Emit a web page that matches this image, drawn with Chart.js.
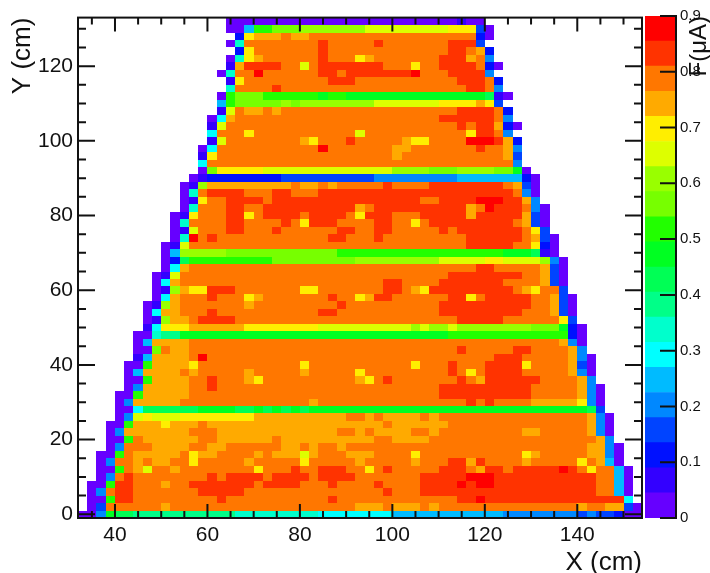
<!DOCTYPE html>
<html>
<head>
<meta charset="utf-8">
<script src="https://cdn.jsdelivr.net/npm/chart.js@4/dist/chart.umd.min.js"></script>
<style>
    body { margin: 0; background: #fff; }
    canvas { position: absolute; top: 0; }
    #map { left: 0; }
    #bar { left: 640px; }
</style>
</head>
<body>
<canvas id="map" width="710" height="573"></canvas>
<canvas id="bar" width="70" height="573"></canvas>
<script>
// one letter per colour level, lowest current first
const levelCodes = "PQBCDEFGHIJKLMNYoORX";
const levelColors = ["#6600ff", "#3300ff", "#0011ff", "#0044ff", "#0088ff", "#00bbff", "#00ffff", "#00ffcc", "#00ff88", "#00ff55",
    "#00ff22", "#22ff00", "#77ff00", "#99ff00", "#ddff00", "#ffee00", "#ffaa00", "#ff7700", "#ff3300", "#ff0000"];
const levelStep = 0.045;
const binSize = 2;

// row centres in cm, top row first
const rowYs = [132, 130, 128, 126, 124, 122, 120, 118, 116, 114, 112, 110, 108, 106, 104, 102, 100, 98, 96, 94, 92, 90, 88,
    86, 84, 82, 80, 78, 76, 74, 72, 70, 68, 66, 64, 62, 60, 58, 56, 54, 52, 50, 48, 46, 44, 42, 40, 38, 36, 34, 32, 30, 28,
    26, 24, 22, 20, 18, 16, 14, 12, 10, 8, 6, 4, 2, 0];

// each token: left bin edge in cm + level letter, runs until next token, "." closes the row
const cellRuns = [
    "64P 114Q 116P 120.",
    "64P 68E 70K 74L 80M 94N 112Y 118C 120P 122.",
    "66B 68Y 70o 76O 78o 82O 118B 120P 122.",
    "64P 66G 68O 84R 86O 96R 98O 112R 118C 120.",
    "66B 68Y 70O 84R 86O 112R 116O 118o 120B 122.",
    "64P 66G 68Y 70o 72O 84R 86O 92Y 94o 96O 110R 116o 118O 120D 122.",
    "64Q 66o 68R 76O 80N 82O 84R 98O 104Y 106O 110R 118O 120B 122P 124.",
    "62P 64G 66O 70X 72O 84R 88O 90R 104X 106O 112R 120D 122.",
    "64Q 66Y 68O 86R 92O 114R 120O 122B 124.",
    "64G 66O 74R 76O 116R 120O 122D 124.",
    "62P 64K 66L 72K 84J 86K 90J 120I 122Q 124P 126.",
    "62E 64K 66L 76M 78L 80M 96N 110Y 118o 120Y 122C 124.",
    "62Q 64N 66O 68o 72O 74o 76O 114R 122O 124B 126.",
    "60P 62F 64o 66O 110R 122O 124D 126.",
    "60Q 62N 64O 114R 116O 118R 122o 124B 126P 128.",
    "60F 62O 68Y 70O 92N 94O 116Y 118R 122O 124D 126.",
    "60Q 62N 64O 80o 82Y 84O 90R 92O 102o 104Y 108O 116X 122R 124o 126B 128.",
    "58P 60F 62O 84X 86O 100o 104O 118R 120O 124o 126D 128.",
    "58Q 60Y 62O 100o 102O 124o 126C 128.",
    "58F 60O 126D 128.",
    "58P 60L 62Y 72N 100M 108L 114M 122L 126J 128P 130.",
    "56P 58Q 60B 76C 96D 114E 128B 130P 132.",
    "54P 56Q 58M 60o 78O 80o 84O 86o 88O 98R 100O 108R 124O 126o 128C 130P 132.",
    "54P 56G 58O 60R 68O 74R 78O 84R 126O 128D 130P 132.",
    "54P 56Q 58Y 60O 64R 72O 74R 106O 110R 118X 124R 128o 130D 132.",
    "54P 56G 58O 64R 68O 72R 92o 94O 96R 116o 118O 120X 122R 128O 130D 132P 134.",
    "52P 54Q 56Y 58O 64R 68Y 70O 72R 80O 82R 90O 92Y 94R 100O 106R 116o 118R 128o 130C 132P 134.",
    "52P 54G 56O 64R 68O 76R 78O 80Y 82R 88O 96R 100O 104Y 106O 108R 126O 128o 130C 132P 134.",
    "52P 54Q 56N 58O 64R 68O 74R 76O 88R 92O 96R 100O 110R 112O 114R 128O 130Y 132C 134.",
    "52P 54G 56X 58O 60R 62O 86R 90O 96R 98O 116R 128O 130o 132C 134P 136.",
    "50P 52Q 54N 56O 116R 126O 130Y 132B 134P 136.",
    "50P 52E 54M 64L 88K 124J 130I 132Q 134P 136.",
    "50P 52B 54I 56K 74L 92M 110N 120Y 124N 132M 134D 136P 138.",
    "50P 52F 54o 56O 118R 122O 132o 134C 136P 138.",
    "48P 50Q 52N 54O 112R 128O 132o 134C 136P 138.",
    "48P 50F 52o 54O 98R 102O 110R 124O 132o 134C 136P 138.",
    "48P 50Q 52M 54o 56Y 60R 66O 80Y 84O 98R 102O 104o 106Y 108R 126O 128o 130Y 132O 136C 138.",
    "48P 50F 52o 54O 60R 62O 68Y 70o 72O 86R 88O 92Y 94o 96R 100O 112R 116Y 118O 120R 130O 134o 136C 138P 140.",
    "46P 48Q 50M 52o 54O 68o 70O 88R 90O 110R 130O 134o 136C 138P 140.",
    "46P 48F 50o 54O 60R 62O 84R 88O 110R 128O 134o 136C 138P 140.",
    "46P 48Q 50M 52o 56O 58R 66O 114R 124O 136Y 138C 140.",
    "46Q 48F 50Y 56o 68Y 84N 104M 106N 108M 112N 114M 130L 136J 138B 140P 142.",
    "44P 48G 50H 54J 112K 138B 140P 142.",
    "44P 46E 48o 56O 136o 138D 140P 142.",
    "44P 48L 50O 52o 56O 114R 116O 126R 130O 138o 140D 142.",
    "44Q 46E 48o 56O 58X 60O 122R 128O 138o 140D 142P 144.",
    "42P 46K 48o 56Y 58O 80Y 82O 104Y 106O 112R 114O 120R 128Y 130O 138o 140C 142P 144.",
    "42P 44E 46o 54O 56o 58O 68o 70O 80o 82O 92Y 94O 112R 114O 116Y 118O 120R 128O 138o 140D 142P 144.",
    "42P 46K 48o 56O 60R 62O 68o 70Y 72O 92o 94Y 96O 98R 100O 114R 116O 118o 120R 132O 140o 142D 144.",
    "42P 44D 46o 56O 60R 62O 110R 130O 140o 142D 144P 146.",
    "40P 44K 46o 56O 110R 130O 140o 142D 144P 146.",
    "40P 42D 44o 54O 82o 84O 116R 118O 120R 122O 130o 140Y 142D 144P 146.",
    "40P 44F 46I 58J 66I 70J 72I 74J 76I 78J 80I 82J 142I 144C 146.",
    "40P 42D 44N 46Y 48N 54Y 70o 90O 94o 96O 98o 106O 108o 110O 142o 144D 146P 148.",
    "38P 42K 44o 50Y 52o 58O 60o 98O 100o 112O 142o 144D 146P 148.",
    "38P 40D 42o 56O 62o 88O 92o 94O 96o 104O 108o 110O 128o 132O 142o 144D 146P 148.",
    "38P 42K 44O 46o 58O 62o 74O 76o 96O 100o 108O 144o 146D 148.",
    "38P 40D 42O 48o 56O 60o 64O 76o 80O 82o 84O 88o 90O 142o 146D 148P 150.",
    "36P 40K 42O 44o 54O 56Y 58o 62O 70o 72O 74o 80N 82o 84O 90o 96O 104Y 106O 128Y 130o 132O 142o 146D 148P 150.",
    "36P 38D 40O 44o 46O 48o 52O 56Y 58O 68o 70O 80Y 82O 92o 94O 104o 106O 112R 116o 118R 120O 128o 130O 140Y 142O 144o 146E 148P 150.",
    "36P 40K 42O 44o 46N 48O 52o 54O 70Y 72O 78R 80O 84R 90O 94Y 96O 98R 100O 110R 116O 118o 120R 124O 126R 136X 138R 140O 142Y 144O 148E 150P 152.",
    "36P 38D 40O 42R 44O 60R 62O 64R 72O 74R 82O 84R 92O 106R 116X 122R 144O 148E 150P 152.",
    "34P 38K 40R 44O 50o 52O 56R 70O 72R 80O 86R 88O 96R 98O 106R 114X 116R 118X 122R 144O 148E 150P 152.",
    "34P 36D 38O 40R 44O 58R 68O 98R 100O 106R 144O 148E 150P 152.",
    "34P 38K 40R 44O 62R 64O 86R 88O 114R 118X 120R 150F 152.",
    "34P 36C 38O 50o 52O 92o 98O 100o 106O 108o 110O 140o 142O 146o 150C 152P 154.",
    "32P 36D 38J 40I 44H 66G 84F 100E 124D 140C 142D 144C 148B 150P 154."
];

const inkColor = "#111";
const labelFont = "'Liberation Sans', Helvetica, Arial, sans-serif";

function buildCells() {
    const cells = [];
    cellRuns.forEach((row, i) => {
        const tokens = row.split(" ");
        for (let t = 0; t < tokens.length - 1; t++) {
            const from = parseInt(tokens[t]);
            const to = parseInt(tokens[t + 1]);
            const level = levelCodes.indexOf(tokens[t].slice(-1));
            for (let x = from; x < to; x += binSize) {
                cells.push({ x: x + binSize / 2, y: rowYs[i], z: (level + 0.5) * levelStep, level: level });
            }
        }
    });
    return cells;
}

const cellPlugin = {
    id: "cells",
    beforeDatasetsDraw(chart) {
        const { ctx, scales } = chart;
        chart.data.datasets[0].data.forEach((c) => {
            const left = Math.round(scales.x.getPixelForValue(c.x - binSize / 2));
            const right = Math.round(scales.x.getPixelForValue(c.x + binSize / 2));
            const top = Math.round(scales.y.getPixelForValue(c.y + binSize / 2));
            const bottom = Math.round(scales.y.getPixelForValue(c.y - binSize / 2));
            ctx.fillStyle = levelColors[c.level];
            ctx.fillRect(left, top, right - left, bottom - top);
        });
    }
};

// inward ticks on all four sides plus the frame
const framePlugin = {
    id: "frame",
    afterDraw(chart) {
        const { ctx, chartArea: a, scales } = chart;
        ctx.save();
        ctx.strokeStyle = inkColor;
        ctx.lineWidth = 2;
        scales.x.ticks.forEach((t) => {
            if (t.value % 5 !== 0) return;
            const px = scales.x.getPixelForValue(t.value);
            const len = t.value % 20 === 0 ? 14 : 7;
            ctx.beginPath();
            ctx.moveTo(px, a.bottom);
            ctx.lineTo(px, a.bottom - len);
            ctx.moveTo(px, a.top);
            ctx.lineTo(px, a.top + len);
            ctx.stroke();
        });
        scales.y.ticks.forEach((t) => {
            if (t.value % 5 !== 0) return;
            const py = scales.y.getPixelForValue(t.value);
            const len = t.value % 20 === 0 ? 17 : 8;
            ctx.beginPath();
            ctx.moveTo(a.left, py);
            ctx.lineTo(a.left + len, py);
            ctx.moveTo(a.right, py);
            ctx.lineTo(a.right - len, py);
            ctx.stroke();
        });
        ctx.strokeRect(a.left, a.top, a.right - a.left, a.bottom - a.top);
        ctx.restore();
    }
};

const barPlugin = {
    id: "barAxis",
    afterDraw(chart) {
        const { ctx, chartArea: a, scales } = chart;
        ctx.save();
        ctx.strokeStyle = inkColor;
        ctx.lineWidth = 2;
        ctx.beginPath();
        ctx.moveTo(a.right, a.top - 1);
        ctx.lineTo(a.right, a.bottom + 1);
        scales.y.ticks.forEach((t) => {
            const py = scales.y.getPixelForValue(t.value);
            ctx.moveTo(a.right, py);
            ctx.lineTo(a.right - 16, py);
        });
        ctx.stroke();
        // title reads upwards, the axis title option would flip it on a right axis
        ctx.translate(59, a.top);
        ctx.rotate(-Math.PI / 2);
        ctx.fillStyle = inkColor;
        ctx.font = `24px ${labelFont}`;
        ctx.textAlign = "right";
        ctx.textBaseline = "middle";
        ctx.fillText("F(\u03bcA)", 0, 0);
        ctx.restore();
    }
};

new Chart(document.getElementById("map"), {
    type: "scatter",
    data: { datasets: [{ label: "F", data: buildCells(), pointRadius: 0 }] },
    options: {
        responsive: false,
        animation: false,
        layout: { padding: { top: 16, right: 68 } },
        plugins: { legend: { display: false }, tooltip: { enabled: false } },
        scales: {
            x: {
                type: "linear",
                min: 32,
                max: 154,
                border: { display: false },
                grid: { display: false, drawTicks: false },
                afterFit: (scale) => { scale.height = 55; },
                ticks: {
                    stepSize: 5,
                    includeBounds: false,
                    autoSkip: false,
                    maxRotation: 0,
                    padding: 5,
                    color: inkColor,
                    font: { family: labelFont, size: 21 },
                    callback: (v) => (v % 20 === 0 ? String(v) : "")
                },
                title: {
                    display: true,
                    text: "X (cm)",
                    align: "end",
                    color: inkColor,
                    padding: { top: 0, bottom: -3 },
                    font: { family: labelFont, size: 26, lineHeight: 1 }
                }
            },
            y: {
                type: "linear",
                min: -1,
                max: 133,
                border: { display: false },
                grid: { display: false, drawTicks: false },
                afterFit: (scale) => { scale.width = 78; },
                ticks: {
                    stepSize: 5,
                    includeBounds: false,
                    autoSkip: false,
                    padding: 5,
                    color: inkColor,
                    font: { family: labelFont, size: 21 },
                    callback: (v) => (v % 20 === 0 ? String(v) : "")
                },
                title: {
                    display: true,
                    text: "Y (cm)",
                    align: "end",
                    color: inkColor,
                    padding: { top: 10, bottom: 0 },
                    font: { family: labelFont, size: 26, lineHeight: 1 }
                }
            }
        }
    },
    plugins: [cellPlugin, framePlugin]
});

new Chart(document.getElementById("bar"), {
    type: "bar",
    data: {
        labels: [""],
        datasets: levelColors.map((color, i) => ({
            label: levelCodes[i],
            data: [levelStep],
            backgroundColor: color,
            borderWidth: 0,
            barPercentage: 1,
            categoryPercentage: 1
        }))
    },
    options: {
        responsive: false,
        animation: false,
        layout: { padding: { top: 16, left: 5, bottom: 55 } },
        plugins: { legend: { display: false }, tooltip: { enabled: false } },
        scales: {
            x: { stacked: true, display: false },
            y: {
                stacked: true,
                position: "right",
                min: 0,
                max: 0.9,
                border: { display: false },
                grid: { display: false, drawTicks: false },
                afterFit: (scale) => { scale.width = 34; },
                ticks: {
                    stepSize: 0.1,
                    padding: 4,
                    color: inkColor,
                    font: { family: labelFont, size: 15 },
                    callback: (v) => String(+v.toFixed(1))
                }
            }
        }
    },
    plugins: [barPlugin]
});
</script>
</body>
</html>
